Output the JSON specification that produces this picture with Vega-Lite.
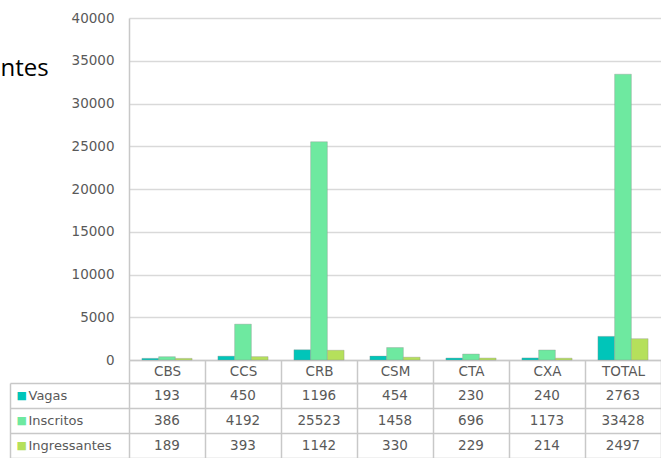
{
  "$schema": "https://vega.github.io/schema/vega-lite/v6.json",
  "padding": {"left": 0, "top": 11, "right": 0, "bottom": 0},
  "background": "white",
  "config": {"view": {"stroke": null}},
  "datasets": {
    "t": [
      {"cat": "CBS", "serie": "Vagas", "value": 193},
      {"cat": "CBS", "serie": "Inscritos", "value": 386},
      {"cat": "CBS", "serie": "Ingressantes", "value": 189},
      {"cat": "CCS", "serie": "Vagas", "value": 450},
      {"cat": "CCS", "serie": "Inscritos", "value": 4192},
      {"cat": "CCS", "serie": "Ingressantes", "value": 393},
      {"cat": "CRB", "serie": "Vagas", "value": 1196},
      {"cat": "CRB", "serie": "Inscritos", "value": 25523},
      {"cat": "CRB", "serie": "Ingressantes", "value": 1142},
      {"cat": "CSM", "serie": "Vagas", "value": 454},
      {"cat": "CSM", "serie": "Inscritos", "value": 1458},
      {"cat": "CSM", "serie": "Ingressantes", "value": 330},
      {"cat": "CTA", "serie": "Vagas", "value": 230},
      {"cat": "CTA", "serie": "Inscritos", "value": 696},
      {"cat": "CTA", "serie": "Ingressantes", "value": 229},
      {"cat": "CXA", "serie": "Vagas", "value": 240},
      {"cat": "CXA", "serie": "Inscritos", "value": 1173},
      {"cat": "CXA", "serie": "Ingressantes", "value": 214},
      {"cat": "TOTAL", "serie": "Vagas", "value": 2763},
      {"cat": "TOTAL", "serie": "Inscritos", "value": 33428},
      {"cat": "TOTAL", "serie": "Ingressantes", "value": 2497}
    ]
  },
  "bounds": "flush",
  "spacing": 23,
  "resolve": {"scale": {"x": "independent", "y": "independent", "color": "independent"}},
  "vconcat": [
    {
      "width": 532,
      "height": 342,
      "data": {"name": "t"},
      "mark": {"type": "bar", "stroke": "#8c8c8c", "strokeWidth": 0.7, "strokeOpacity": 0.5},
      "encoding": {
        "x": {
          "field": "cat", "type": "nominal",
          "sort": ["CBS", "CCS", "CRB", "CSM", "CTA", "CXA", "TOTAL"],
          "scale": {"paddingInner": 0.34, "paddingOuter": 0.17},
          "axis": {"title": null, "labels": false, "ticks": false, "domain": true, "domainColor": "#c8c8c8", "domainWidth": 1.5}
        },
        "xOffset": {
          "field": "serie", "type": "nominal",
          "sort": ["Vagas", "Inscritos", "Ingressantes"],
          "scale": {"paddingInner": 0, "paddingOuter": 0}
        },
        "y": {
          "field": "value", "type": "quantitative",
          "scale": {"domain": [0, 40000], "nice": false},
          "axis": {
            "values": [0, 5000, 10000, 15000, 20000, 25000, 30000, 35000, 40000],
            "format": "d",
            "grid": true, "gridColor": "#d9d9d9", "gridWidth": 1.5,
            "domain": true, "domainColor": "#c8c8c8", "domainWidth": 1.5,
            "ticks": false, "labelPadding": 15,
            "labelFont": "DejaVu Sans", "labelFontSize": 13.5, "labelColor": "#595959",
            "title": "ntes", "titleAngle": 0, "titleX": -129, "titleY": 57,
            "titleAlign": "left", "titleBaseline": "alphabetic",
            "titleFont": "Open Sans", "titleFontSize": 24, "titleFontWeight": "normal", "titleColor": "#000000"
          }
        },
        "color": {
          "field": "serie", "type": "nominal",
          "scale": {"domain": ["Vagas", "Inscritos", "Ingressantes"], "range": ["#00C5B9", "#6EE9A0", "#B5E05B"]},
          "legend": null
        }
      }
    },
    {
      "width": 532,
      "height": 75,
      "data": {"name": "t"},
      "resolve": {"axis": {"y": "independent"}},
      "layer": [
        {
          "mark": {"type": "text", "font": "DejaVu Sans", "fontSize": 13.5, "color": "#595959"},
          "encoding": {
            "x": {
              "field": "cat", "type": "nominal",
              "sort": ["CBS", "CCS", "CRB", "CSM", "CTA", "CXA", "TOTAL"],
              "scale": {"paddingInner": 0, "paddingOuter": 0},
              "axis": {
                "orient": "top", "title": null, "tickBand": "extent",
                "grid": true, "gridColor": "#c8c8c8", "gridWidth": 1.5,
                "ticks": true, "tickSize": 23, "tickColor": "#c8c8c8", "tickWidth": 1.5,
                "domain": true, "domainColor": "#c8c8c8", "domainWidth": 1.5,
                "labelAngle": 0, "labelPadding": -18,
                "labelFont": "DejaVu Sans", "labelFontSize": 13.5, "labelColor": "#595959"
              }
            },
            "y": {
              "field": "serie", "type": "nominal",
              "sort": ["Vagas", "Inscritos", "Ingressantes"],
              "scale": {"paddingInner": 0, "paddingOuter": 0},
              "axis": {
                "title": null, "tickBand": "extent",
                "grid": true, "gridColor": "#c8c8c8", "gridWidth": 1.5,
                "ticks": true, "tickSize": 119, "tickColor": "#c8c8c8", "tickWidth": 1.5,
                "domain": false,
                "labelAlign": "left", "labelBaseline": "middle", "labelPadding": -18,
                "labelFont": "DejaVu Sans", "labelFontSize": 13, "labelColor": "#595959"
              }
            },
            "text": {"field": "value", "type": "quantitative", "format": "d"}
          }
        },
        {
          "mark": {"type": "text", "opacity": 0},
          "encoding": {
            "y": {
              "field": "serie", "type": "nominal",
              "sort": ["Vagas", "Inscritos", "Ingressantes"],
              "axis": {
                "title": null, "orient": "left", "offset": 119,
                "grid": false, "ticks": false, "tickSize": 0,
                "domain": true, "domainColor": "#c8c8c8", "domainWidth": 1.5,
                "labelExpr": "'■'", "labelAlign": "left", "labelBaseline": "middle", "labelPadding": -6,
                "labelFont": "DejaVu Sans", "labelFontSize": 11,
                "labelColor": {
                  "condition": [
                    {"test": "datum.value === 'Vagas'", "value": "#00C5B9"},
                    {"test": "datum.value === 'Inscritos'", "value": "#6EE9A0"}
                  ],
                  "value": "#B5E05B"
                }
              }
            },
            "text": {"field": "value", "type": "quantitative"}
          }
        }
      ]
    }
  ]
}
